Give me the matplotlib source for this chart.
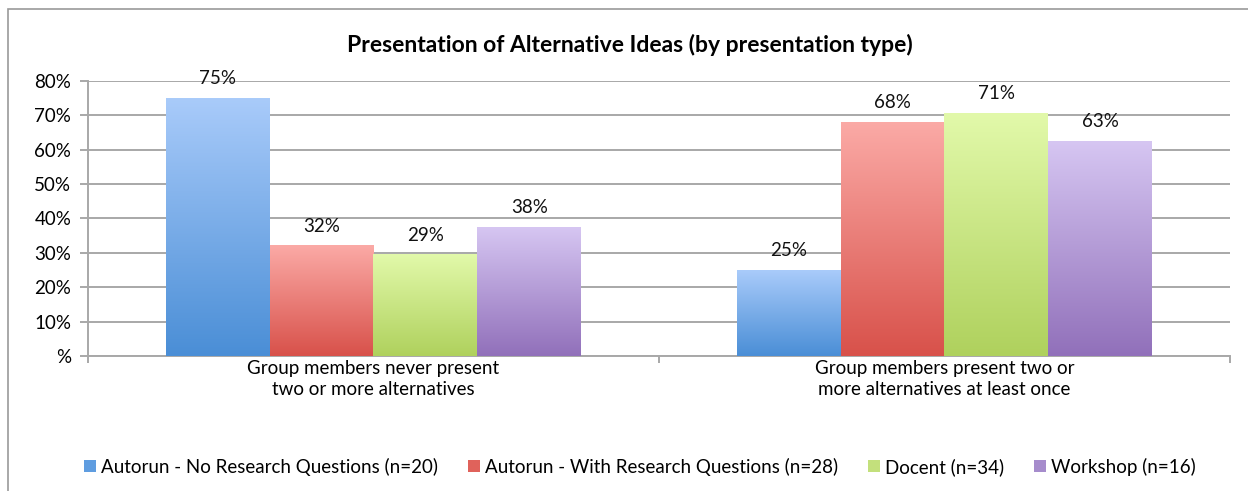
import numpy as np
import matplotlib
matplotlib.use("Agg")
import matplotlib.pyplot as plt
from matplotlib.colors import LinearSegmentedColormap
from matplotlib.patches import Patch, Rectangle

plt.rcParams["font.family"] = ["Lato", "DejaVu Sans"]

# ---- data ----
categories = ["Group members never present\ntwo or more alternatives",
              "Group members present two or\nmore alternatives at least once"]
series = ["Autorun - No Research Questions (n=20)",
          "Autorun - With Research Questions (n=28)",
          "Docent (n=34)",
          "Workshop (n=16)"]
autorun_no_rq = [75.0, 25.0]
autorun_rq = [32.1, 67.9]
docent = [29.4, 70.6]
workshop = [37.5, 62.5]
values = [autorun_no_rq, autorun_rq, docent, workshop]
yticks = [0, 10, 20, 30, 40, 50, 60, 70, 80]
ytick_labels = ["%", "10%", "20%", "30%", "40%", "50%", "60%", "70%", "80%"]

# gradient colours (top, bottom) per series
grads = [("#a9cbfa", "#4a8ed6"),
         ("#fbaaa6", "#d8514a"),
         ("#e2f9aa", "#afd15d"),
         ("#d6c6f2", "#9170ba")]
legend_cols = ["#5f9de0", "#e0625b", "#c3e07c", "#a68ccc"]

fig = plt.figure(figsize=(12.48, 4.91), dpi=100)
ax = fig.add_axes([0.0705, 0.275, 0.915, 0.560])

# outer chart frame
fig.patches.append(Rectangle((8 / 1248, -0.05), 1.2, 1 - 9 / 491 + 0.05,
                             transform=fig.transFigure, fill=False,
                             edgecolor="#9a9a9a", linewidth=1.2))

x = np.arange(len(categories))
bw = 0.182
offsets = (np.arange(len(series)) - 1.5) * bw

ax.set_xlim(-0.5, 1.5)
ax.set_ylim(0, 80)

for i, vals in enumerate(values):
    bars = ax.bar(x + offsets[i], vals, bw, color="none", edgecolor="none", zorder=3)
    cmap = LinearSegmentedColormap.from_list("g%d" % i, [grads[i][1], grads[i][0]])
    grad = np.linspace(0, 1, 256).reshape(-1, 1)
    for b, v in zip(bars, vals):
        x0 = b.get_x()
        ax.imshow(grad, cmap=cmap, origin="lower", aspect="auto",
                  extent=[x0, x0 + b.get_width(), 0, b.get_height()], zorder=3)
        ax.annotate("%d%%" % int(v + 0.5), (x0 + b.get_width() / 2, v),
                    xytext=(0, 8), textcoords="offset points",
                    ha="center", va="bottom", fontsize=13.5, color="#111111")

ax.set_xlim(-0.5, 1.5)
ax.set_ylim(0, 80)

ax.set_yticks(yticks)
ax.set_yticklabels(ytick_labels, fontsize=13.5)
ax.yaxis.grid(True, color="#a8a8a8", linewidth=1.4, zorder=0)
ax.set_axisbelow(True)

# minor ticks at category boundaries, labels at centres
ax.set_xticks([-0.5, 0.5, 1.5], minor=True)
ax.set_xticks(x)
ax.set_xticklabels(categories, fontsize=13.5, linespacing=1.25)
ax.tick_params(axis="x", which="major", length=0, pad=3)
ax.tick_params(axis="x", which="minor", length=5, width=1.4, color="#a8a8a8")
ax.tick_params(axis="y", length=6, width=1.4, color="#a8a8a8", pad=6)

for s in ["top", "right"]:
    ax.spines[s].set_visible(False)
for s in ["left", "bottom"]:
    ax.spines[s].set_color("#a8a8a8")
    ax.spines[s].set_linewidth(1.4)

fig.text(0.505, 1 - 45 / 491, "Presentation of Alternative Ideas (by presentation type)",
         ha="center", va="center", fontsize=16.5, fontweight="bold")

handles = [Patch(facecolor=c, edgecolor="none") for c in legend_cols]
fig.legend(handles, series, loc="center", bbox_to_anchor=(0.513, 1 - 467 / 491),
           ncol=4, frameon=False, fontsize=13.5, handlelength=0.6, handleheight=0.6,
           handletextpad=0.3, columnspacing=1.6)

fig.savefig("out.png", dpi=100)
